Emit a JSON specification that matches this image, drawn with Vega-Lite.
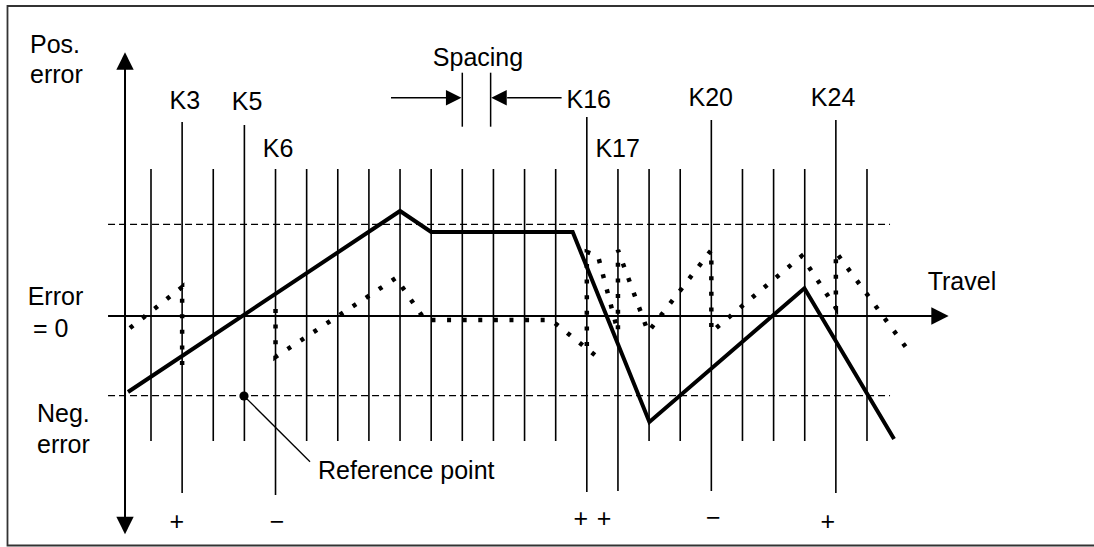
{
  "$schema": "https://vega.github.io/schema/vega-lite/v6.json",
  "width": 1094,
  "height": 547,
  "autosize": "none",
  "padding": 0,
  "background": "white",
  "config": {"view": {"stroke": null}, "text": {"font": "Liberation Sans", "color": "black"}},
  "datasets": {
    "border": [{"x": -2.61, "x2": 32.39, "y": 31.0, "y2": -22.95}],
    "limits": [
      {"name": "pos limit", "x": 0.62, "x2": 25.74, "y": 9.17},
      {"name": "neg limit", "x": 0.62, "x2": 25.74, "y": -7.97}
    ],
    "grid": [
      {"k": "K2", "x": 2, "y": 14.7, "y2": -12.5},
      {"k": "K3", "x": 3, "y": 19.4, "y2": -17.7},
      {"k": "K4", "x": 4, "y": 14.7, "y2": -12.5},
      {"k": "K5", "x": 5, "y": 19.1, "y2": -12.5},
      {"k": "K6", "x": 6, "y": 14.7, "y2": -17.9},
      {"k": "K7", "x": 7, "y": 14.7, "y2": -12.5},
      {"k": "K8", "x": 8, "y": 14.7, "y2": -12.5},
      {"k": "K9", "x": 9, "y": 14.7, "y2": -12.5},
      {"k": "K10", "x": 10, "y": 14.7, "y2": -12.5},
      {"k": "K11", "x": 11, "y": 14.7, "y2": -12.5},
      {"k": "K12", "x": 12, "y": 14.7, "y2": -12.5},
      {"k": "K13", "x": 13, "y": 14.7, "y2": -12.5},
      {"k": "K14", "x": 14, "y": 14.7, "y2": -12.5},
      {"k": "K15", "x": 15, "y": 14.7, "y2": -12.5},
      {"k": "K16", "x": 16, "y": 19.9, "y2": -17.6},
      {"k": "K17", "x": 17, "y": 14.7, "y2": -17.5},
      {"k": "K18", "x": 18, "y": 14.7, "y2": -12.5},
      {"k": "K19", "x": 19, "y": 14.7, "y2": -12.5},
      {"k": "K20", "x": 20, "y": 19.6, "y2": -17.5},
      {"k": "K21", "x": 21, "y": 14.7, "y2": -12.5},
      {"k": "K22", "x": 22, "y": 14.7, "y2": -12.5},
      {"k": "K23", "x": 23, "y": 14.7, "y2": -12.5},
      {"k": "K24", "x": 24, "y": 19.6, "y2": -17.7},
      {"k": "K25", "x": 25, "y": 14.7, "y2": -12.5}
    ],
    "axes": [
      {"name": "travel", "x": 0.62, "x2": 27.2, "y": 0, "y2": 0},
      {"name": "error", "x": 1.165, "x2": 1.165, "y": 25.5, "y2": -21.0}
    ],
    "heads": [
      {"dir": "right", "kind": "axis", "x": 27.345, "y": 0},
      {"dir": "up", "kind": "axis", "x": 1.165, "y": 25.5},
      {"dir": "down", "kind": "axis", "x": 1.165, "y": -20.95},
      {"dir": "right", "kind": "spacing", "x": 11.724, "y": 21.83},
      {"dir": "left", "kind": "spacing", "x": 13.179, "y": 21.83}
    ],
    "spacing": [
      {"x": 9.71, "x2": 11.48, "y": 21.83, "y2": 21.83},
      {"x": 13.44, "x2": 15.19, "y": 21.83, "y2": 21.83},
      {"x": 12.0, "x2": 12.0, "y": 24.33, "y2": 18.93},
      {"x": 12.91, "x2": 12.91, "y": 24.33, "y2": 18.93}
    ],
    "error": [
      {"i": 0, "x": 1.261, "y": -7.6},
      {"i": 1, "x": 10.0, "y": 10.5},
      {"i": 2, "x": 11.0, "y": 8.4},
      {"i": 3, "x": 15.546, "y": 8.4},
      {"i": 4, "x": 18.01, "y": -10.6},
      {"i": 5, "x": 22.99, "y": 2.77},
      {"i": 6, "x": 25.87, "y": -12.3}
    ],
    "compensated": [
      {"seg": "A", "i": 0, "x": 1.325, "y": -1.2},
      {"seg": "A", "i": 1, "x": 3.0, "y": 2.9},
      {"seg": "A", "i": 2, "x": 3.0, "y": -5.6},
      {"seg": "B", "i": 3, "x": 6.0, "y": 0.7},
      {"seg": "B", "i": 4, "x": 6.0, "y": -4.1},
      {"seg": "B", "i": 5, "x": 9.87, "y": 3.8},
      {"seg": "B", "i": 6, "x": 10.8, "y": -0.4},
      {"seg": "B", "i": 7, "x": 14.85, "y": -0.4},
      {"seg": "B", "i": 8, "x": 16.26, "y": -3.9},
      {"seg": "C", "i": 9, "x": 16.0, "y": -3.0},
      {"seg": "C", "i": 10, "x": 16.0, "y": 6.4},
      {"seg": "C", "i": 11, "x": 16.36, "y": 6.0},
      {"seg": "C", "i": 12, "x": 17.0, "y": -1.6},
      {"seg": "C", "i": 13, "x": 17.0, "y": 6.6},
      {"seg": "C", "i": 14, "x": 17.97, "y": -1.6},
      {"seg": "C", "i": 15, "x": 20.0, "y": 6.6},
      {"seg": "C", "i": 16, "x": 20.0, "y": -1.6},
      {"seg": "C", "i": 17, "x": 22.9, "y": 6.0},
      {"seg": "C", "i": 18, "x": 24.0, "y": 0.8},
      {"seg": "C", "i": 19, "x": 24.0, "y": 6.4},
      {"seg": "C", "i": 20, "x": 26.41, "y": -3.8}
    ],
    "leader": [{"x": 4.987, "y": -8.0, "x2": 7.108, "y2": -14.57}],
    "refpoint": [{"x": 4.987, "y": -8.0}],
    "labelsLeft": [
      {"label": "Pos.", "x": -1.887, "y": 26.27},
      {"label": "error", "x": -1.887, "y": 23.27},
      {"label": "Error", "x": -1.961, "y": 1.1},
      {"label": "= 0", "x": -1.791, "y": -2.07},
      {"label": "Neg.", "x": -1.662, "y": -10.57},
      {"label": "error", "x": -1.662, "y": -13.7},
      {"label": "Travel", "x": 26.95, "y": 2.6},
      {"label": "Reference point", "x": 7.365, "y": -16.3}
    ],
    "labelsCenter": [
      {"label": "Spacing", "x": 12.504, "y": 25.03},
      {"label": "K3", "x": 3.089, "y": 20.67},
      {"label": "K5", "x": 5.084, "y": 20.6},
      {"label": "K6", "x": 6.08, "y": 15.93},
      {"label": "K16", "x": 16.06, "y": 20.77},
      {"label": "K17", "x": 16.99, "y": 15.93},
      {"label": "K20", "x": 19.98, "y": 21.0},
      {"label": "K24", "x": 23.91, "y": 21.0},
      {"label": "+", "x": 2.826, "y": -21.44},
      {"label": "−", "x": 6.048, "y": -21.41},
      {"label": "+", "x": 15.81, "y": -21.14},
      {"label": "+", "x": 16.55, "y": -21.14},
      {"label": "−", "x": 20.06, "y": -21.04},
      {"label": "+", "x": 23.74, "y": -21.44}
    ]
  },
  "encoding": {
    "x": {"field": "x", "type": "quantitative", "scale": {"domain": [-2.8506, 32.2923], "nice": false, "zero": false}, "axis": null},
    "y": {"field": "y", "type": "quantitative", "scale": {"domain": [-23.1, 31.6], "nice": false, "zero": false}, "axis": null}
  },
  "layer": [
    {
      "data": {"name": "border"},
      "mark": {"type": "rect", "filled": false, "stroke": "#333333", "strokeWidth": 1.8},
      "encoding": {"x2": {"field": "x2"}, "y2": {"field": "y2"}}
    },
    {
      "data": {"name": "limits"},
      "mark": {"type": "rule", "color": "black", "strokeWidth": 1.3, "strokeDash": [7, 4]},
      "encoding": {"x2": {"field": "x2"}}
    },
    {
      "data": {"name": "grid"},
      "mark": {"type": "rule", "color": "black", "strokeWidth": 1.6},
      "encoding": {"y2": {"field": "y2"}}
    },
    {
      "data": {"name": "axes"},
      "mark": {"type": "rule", "color": "black", "strokeWidth": 2},
      "encoding": {"x2": {"field": "x2"}, "y2": {"field": "y2"}}
    },
    {
      "data": {"name": "spacing"},
      "mark": {"type": "rule", "color": "black", "strokeWidth": 1.5},
      "encoding": {"x2": {"field": "x2"}, "y2": {"field": "y2"}}
    },
    {
      "data": {"name": "leader"},
      "mark": {"type": "rule", "color": "black", "strokeWidth": 1.3},
      "encoding": {"x2": {"field": "x2"}, "y2": {"field": "y2"}}
    },
    {
      "data": {"name": "heads"},
      "mark": {"type": "point", "filled": true, "color": "black", "opacity": 1, "strokeWidth": 0},
      "encoding": {
        "shape": {"field": "dir", "type": "nominal", "legend": null,
          "scale": {"domain": ["right", "up", "down", "left"],
                    "range": ["M1,0L-1,-1L-1,1Z", "M0,-1L1,1L-1,1Z", "M0,1L-1,-1L1,-1Z", "M-1,0L1,-1L1,1Z"]}},
        "size": {"field": "kind", "type": "nominal", "legend": null,
          "scale": {"domain": ["axis", "spacing"], "range": [300, 240]}}
      }
    },
    {
      "data": {"name": "error"},
      "mark": {"type": "line", "color": "black", "strokeWidth": 4, "strokeJoin": "miter"},
      "encoding": {"order": {"field": "i", "type": "quantitative"}}
    },
    {
      "data": {"name": "compensated"},
      "mark": {"type": "line", "color": "black", "strokeWidth": 4.5, "strokeDash": [4, 11.6], "strokeCap": "butt"},
      "encoding": {"detail": {"field": "seg", "type": "nominal"}, "order": {"field": "i", "type": "quantitative"}}
    },
    {
      "data": {"name": "refpoint"},
      "mark": {"type": "point", "filled": true, "color": "black", "opacity": 1, "size": 85, "shape": "circle"}
    },
    {
      "data": {"name": "labelsLeft"},
      "mark": {"type": "text", "fontSize": 25, "align": "left", "baseline": "alphabetic", "font": "Liberation Sans"},
      "encoding": {"text": {"field": "label", "type": "nominal"}}
    },
    {
      "data": {"name": "labelsCenter"},
      "mark": {"type": "text", "fontSize": 25, "align": "center", "baseline": "alphabetic", "font": "Liberation Sans"},
      "encoding": {"text": {"field": "label", "type": "nominal"}}
    }
  ]
}
